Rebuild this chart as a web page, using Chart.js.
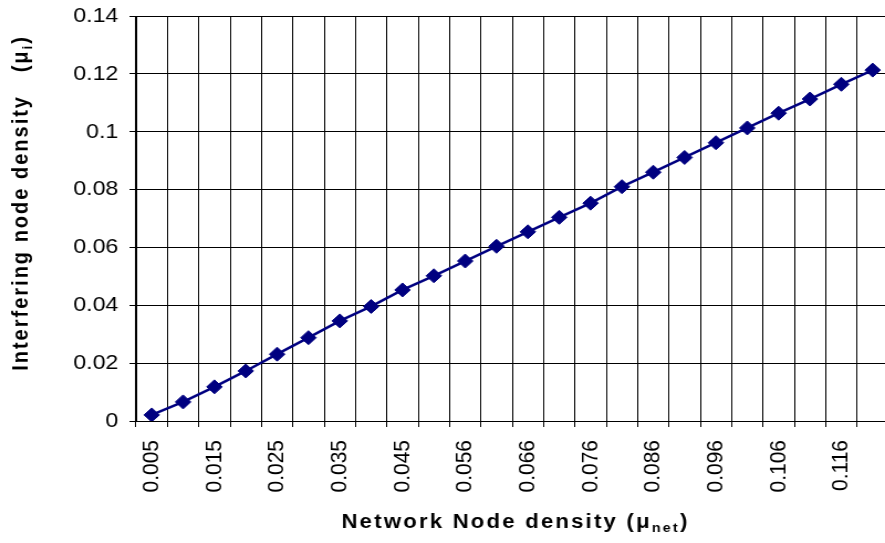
<!DOCTYPE html>
<html>
<head>
<meta charset="utf-8">
<script src="https://cdn.jsdelivr.net/npm/chart.js@4.4.1/dist/chart.umd.min.js"></script>
<style>
  html, body { margin: 0; padding: 0; background: #fff; overflow: hidden; }
  /* the original picture is stretched sideways and cut at the right, so draw
     a bit wider than the window and stretch */
  #wrap { width: 811px; height: 543px; transform: scaleX(1.10625); transform-origin: 0 0; }
</style>
</head>
<body>
<div id="wrap"><canvas id="chart"></canvas></div>
<script>
// network node density (x categories)
var nodeDensity = ['0.005', '0.010', '0.015', '0.020', '0.025', '0.030', '0.035', '0.040',
  '0.045', '0.051', '0.056', '0.061', '0.066', '0.071', '0.076', '0.081',
  '0.086', '0.091', '0.096', '0.101', '0.106', '0.111', '0.116', '0.121'];

// interfering node density
var interferingDensity = [0.0021, 0.0066, 0.0118, 0.0173, 0.0231, 0.0288, 0.0346, 0.0396,
  0.0453, 0.0502, 0.0553, 0.0604, 0.0654, 0.0704, 0.0753, 0.0810,
  0.0860, 0.0911, 0.0962, 0.1013, 0.1064, 0.1113, 0.1164, 0.1213];

var yTicks = ['0', '0.02', '0.04', '0.06', '0.08', '0.1', '0.12', '0.14'];

var xTitle = [['Network Node density (\u03bc', 0], ['net', 1], [')', 0]];
var yTitle = [['Interfering node density   (\u03bc', 0], ['i', 1], [')', 0]];

// draws a title made of normal and subscript parts
function drawParts(ctx, parts, cx, base) {
  var big = 'bold 20px "Liberation Sans", Arial, sans-serif';
  var small = 'bold 13px "Liberation Sans", Arial, sans-serif';
  ctx.letterSpacing = '2px';
  var total = 0;
  parts.forEach(function(p) {
    ctx.font = p[1] ? small : big;
    total += ctx.measureText(p[0]).width;
  });
  var x = cx - total / 2;
  parts.forEach(function(p) {
    ctx.font = p[1] ? small : big;
    ctx.fillText(p[0], x, base + (p[1] ? 4 : 0));
    x += ctx.measureText(p[0]).width;
  });
}

var axisTitles = {
  id: 'axisTitles',
  afterDraw: function(chart) {
    var ctx = chart.ctx;
    ctx.save();
    ctx.fillStyle = '#000';
    ctx.textAlign = 'left';
    ctx.textBaseline = 'alphabetic';
    drawParts(ctx, xTitle, 466, 528);
    ctx.translate(25, 203);
    ctx.rotate(-Math.PI / 2);
    drawParts(ctx, yTitle, 0, 0);
    ctx.restore();
  }
};

var tickFont = { family: '"Liberation Sans", Arial, sans-serif', size: 21 };

new Chart(document.getElementById('chart').getContext('2d'), {
  type: 'line',
  data: {
    labels: nodeDensity,
    datasets: [{
      data: interferingDensity,
      borderColor: '#000080',
      borderWidth: 2.5,
      pointStyle: 'rectRot',
      pointRadius: 7,
      pointBackgroundColor: '#000080',
      pointBorderColor: '#000080',
      pointBorderWidth: 1,
      tension: 0
    }]
  },
  options: {
    responsive: true,
    maintainAspectRatio: false,
    animation: false,
    layout: { padding: { top: 16, right: 0, bottom: 0, left: 0 } },
    plugins: { legend: { display: false }, tooltip: { enabled: false } },
    scales: {
      x: {
        type: 'category',
        offset: true,
        grid: { offset: true, color: '#000', lineWidth: 1, tickLength: 6 },
        border: { color: '#000', width: 1 },
        ticks: {
          autoSkip: false,
          minRotation: 90,
          maxRotation: 90,
          padding: 13,
          color: '#000',
          font: tickFont,
          callback: function(v, i) { return i % 2 == 0 ? nodeDensity[i] : ''; }
        },
        afterFit: function(scale) {
          scale.height = 122;
          scale.paddingLeft = 0;
          scale.paddingRight = 0;
        }
      },
      y: {
        min: 0,
        max: 0.14,
        grid: { color: '#000', lineWidth: 1, tickLength: 6 },
        border: { color: '#000', width: 1 },
        ticks: {
          stepSize: 0.02,
          padding: 10,
          color: '#000',
          font: tickFont,
          callback: function(v, i) { return yTicks[i]; }
        },
        afterFit: function(scale) {
          scale.width = 123;
          scale.paddingTop = 0;
          scale.paddingBottom = 0;
        }
      }
    }
  },
  plugins: [axisTitles]
});
</script>
</body>
</html>
